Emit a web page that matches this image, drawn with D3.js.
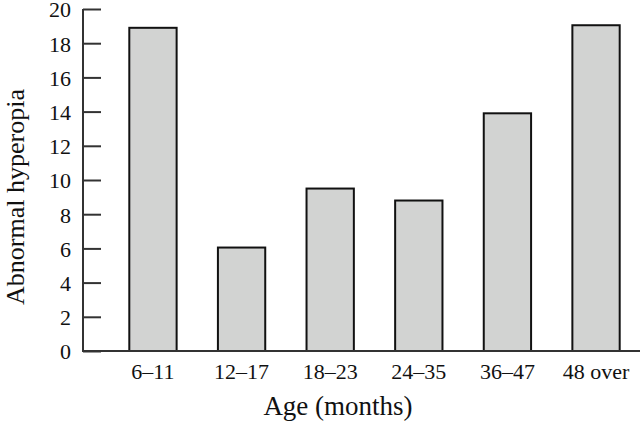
<!DOCTYPE html>
<html>
<head>
<meta charset="utf-8">
<script src="https://cdn.jsdelivr.net/npm/d3@7"></script>
<style>
  body { margin: 0; background: #fff; }
  svg text { font-family: "Liberation Serif", "DejaVu Serif", serif; fill: #111; }
</style>
</head>
<body>
<div id="chart"></div>
<script>
// age groups and their abnormal hyperopia values
var ageGroups = ["6–11", "12–17", "18–23", "24–35", "36–47", "48 over"];
var hyperopia = [18.9, 6.05, 9.5, 8.8, 13.9, 19.05];
var yTicks = [0, 2, 4, 6, 8, 10, 12, 14, 16, 18, 20];

var width = 640, height = 422;
var axisX = 83, baseY = 351, topY = 9;

var svg = d3.select("#chart").append("svg")
    .attr("width", width)
    .attr("height", height);

var x = d3.scaleBand()
    .domain(ageGroups)
    .range([85, 664])
    .paddingInner(0.466)
    .paddingOuter(0.5);

var y = d3.scaleLinear()
    .domain([0, 20])
    .range([baseY, topY]);

// bars
svg.selectAll("rect.bar")
    .data(hyperopia)
    .enter().append("rect")
    .attr("class", "bar")
    .attr("x", function(d, i) { return x(ageGroups[i]); })
    .attr("y", function(d) { return y(d); })
    .attr("width", x.bandwidth())
    .attr("height", function(d) { return baseY - y(d); })
    .style("fill", "#d2d3d2")
    .style("stroke", "#111")
    .style("stroke-width", 2);

// y axis: ticks point inward, labels on the left
var yAxis = d3.axisRight(y)
    .tickValues(yTicks)
    .tickSize(18)
    .tickFormat(d3.format("d"));

var gy = svg.append("g")
    .attr("transform", "translate(" + axisX + ",0)")
    .call(yAxis);
gy.select(".domain").remove();
gy.selectAll(".tick line").style("stroke", "#333").style("stroke-width", 2);
gy.selectAll(".tick text")
    .attr("x", -12)
    .attr("dy", "0.36em")
    .style("text-anchor", "end")
    .style("font-size", "22px")
    .style("font-family", "Liberation Serif, serif");

svg.append("line")
    .attr("x1", axisX).attr("x2", axisX)
    .attr("y1", y(20)).attr("y2", baseY + 1)
    .style("stroke", "#333").style("stroke-width", 2);

// x axis baseline runs to the right edge
svg.append("line")
    .attr("x1", axisX - 1).attr("x2", width)
    .attr("y1", baseY).attr("y2", baseY)
    .style("stroke", "#333").style("stroke-width", 2);

var xAxis = d3.axisBottom(x).tickSize(0);
var gx = svg.append("g")
    .attr("transform", "translate(0," + baseY + ")")
    .call(xAxis);
gx.select(".domain").remove();
gx.selectAll(".tick text")
    .attr("y", 28)
    .attr("dy", 0)
    .style("font-size", "22px")
    .style("font-family", "Liberation Serif, serif");

// axis titles
svg.append("text")
    .attr("x", 338)
    .attr("y", 415)
    .style("text-anchor", "middle")
    .style("font-size", "27px")
    .text("Age (months)");

svg.append("text")
    .attr("transform", "translate(24,197) rotate(-90)")
    .style("text-anchor", "middle")
    .style("font-size", "26px")
    .text("Abnormal hyperopia");
</script>
</body>
</html>
